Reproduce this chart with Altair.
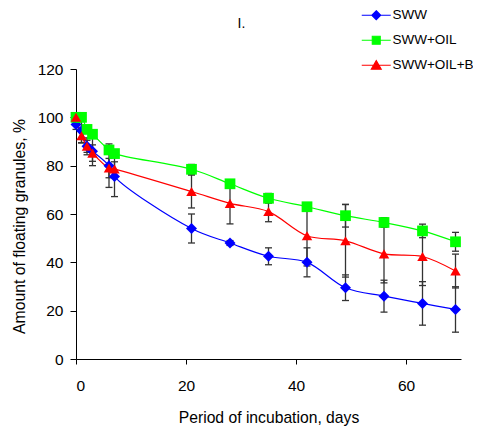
import altair as alt
import pandas as pd

days = [0, 1, 2, 3, 6, 7, 21, 28, 35, 42, 49, 56, 63, 69]
series_names = ["SWW", "SWW+OIL", "SWW+OIL+B"]
sww = [97, 94.5, 88, 86, 80, 75.5, 54, 48, 42.5, 40, 29.5, 26, 23, 20.5]
sww_err = [2, 5, 3.5, 6, 9, 8.3, 6, 1, 3.5, 6, 5.3, 6.6, 9, 9.4]
sww_oil = [100, 100, 95, 93, 86.5, 85, 78.5, 72.5, 66.5, 63, 59.3, 56.5, 53, 48.5]
sww_oil_err = [1, 1, 1.5, 1.5, 1.5, 1.5, 2, 1.5, 2, 1.5, 4.7, 2, 2.8, 3.9]
sww_oil_b = [100, 92.4, 88, 85.2, 79, 78.6, 69.3, 64.4, 61, 51, 48.9, 43.5, 42.4, 36.4]
sww_oil_b_err = [1, 3, 2.5, 3.4, 4, 3, 6.8, 8.5, 4.2, 12.5, 15, 12, 12, 7]

colors = ["#0000FF", "#00FF00", "#FF0000"]
shapes = ["diamond", "square", "triangle-up"]
sizes = [121, 110, 144]
legend_paths = [
    "M-2.9,0L2.9,0M0,-0.9L0.9,0L0,0.9L-0.9,0Z",
    "M-2.9,0L2.9,0M-0.8,-0.8L0.8,-0.8L0.8,0.8L-0.8,0.8Z",
    "M-2.9,0L2.9,0M0,-0.95L1,0.8L-1,0.8Z",
]

rows = []
for name, vals, errs in zip(series_names, [sww, sww_oil, sww_oil_b],
                            [sww_err, sww_oil_err, sww_oil_b_err]):
    for d, v, e in zip(days, vals, errs):
        rows.append({"series": name, "day": d, "value": v,
                     "low": v - e, "high": v + e})
df = pd.DataFrame(rows)

FONT = "Liberation Sans"

axis_x = alt.Axis(values=[0, 20, 40, 60], grid=False, tickSize=5, tickColor="black",
                  domainColor="black", domainWidth=1, tickWidth=1,
                  labelFont=FONT, labelFontSize=15.5, labelColor="black", labelPadding=14,
                  title="Period of incubation, days", titleFont=FONT, titleFontSize=15.7,
                  titleFontWeight="normal", titleColor="black", titleY=51)
axis_y = alt.Axis(values=[0, 20, 40, 60, 80, 100, 120], grid=False, tickSize=6,
                  tickColor="black", domainColor="black", domainWidth=1, tickWidth=1,
                  labelFont=FONT, labelFontSize=15.5, labelColor="black", labelPadding=7,
                  title="Amount of floating granules, %", titleFont=FONT, titleFontSize=15.8,
                  titleFontWeight="normal", titleColor="black",
                  titleX=-57, titleY=157, titleBaseline="middle", titleAngle=270)

xs = alt.Scale(domain=[0, 70], nice=False)
ys = alt.Scale(domain=[0, 120], nice=False)
X = alt.X("day:Q", scale=xs, axis=axis_x)

base = alt.Chart(df)

rules = base.mark_rule(color="#333333", strokeWidth=1.3).encode(
    x=X, y=alt.Y("low:Q", scale=ys, axis=axis_y), y2="high:Q")
tick_lo = base.mark_tick(orient="horizontal", size=7, thickness=1.3,
                         color="#333333", opacity=1).encode(
    x=X, y=alt.Y("low:Q", scale=ys, axis=axis_y))
tick_hi = base.mark_tick(orient="horizontal", size=7, thickness=1.3,
                         color="#333333", opacity=1).encode(
    x=X, y=alt.Y("high:Q", scale=ys, axis=axis_y))

lines = base.mark_line(interpolate="catmull-rom", strokeWidth=1.2).encode(
    x=X, y=alt.Y("value:Q", scale=ys, axis=axis_y),
    color=alt.Color("series:N", scale=alt.Scale(domain=series_names, range=colors),
                    legend=None))

points = base.mark_point(filled=True, opacity=1).encode(
    x=X, y=alt.Y("value:Q", scale=ys, axis=axis_y),
    fill=alt.Fill("series:N", scale=alt.Scale(domain=series_names, range=colors),
                  legend=None),
    shape=alt.Shape("series:N", scale=alt.Scale(domain=series_names, range=shapes),
                    legend=None),
    size=alt.Size("series:N", scale=alt.Scale(domain=series_names, range=sizes),
                  legend=None))

leg = alt.Legend(title=None, orient="none", legendX=293.5, legendY=-60.5,
                 labelFont=FONT, labelFontSize=13.5, labelColor="black",
                 symbolSize=100, symbolStrokeWidth=1.1, labelOffset=9.5,
                 rowPadding=10, padding=0, symbolOpacity=1)

legend_layer = base.transform_filter("datum.day < 0").mark_point(
    filled=True, opacity=1, strokeWidth=1.1).encode(
    x=X, y=alt.Y("value:Q", scale=ys, axis=axis_y),
    fill=alt.Fill("series:N", scale=alt.Scale(domain=series_names, range=colors), legend=leg),
    stroke=alt.Stroke("series:N", scale=alt.Scale(domain=series_names, range=colors), legend=leg),
    shape=alt.Shape("series:N", scale=alt.Scale(domain=series_names, range=legend_paths),
                    legend=leg))

chart = alt.layer(rules, tick_lo, tick_hi, lines, points, legend_layer).resolve_scale(
    color="independent", fill="independent", stroke="independent",
    shape="independent", size="independent"
).properties(
    width=385, height=290, autosize="none",
    padding={"left": 68, "top": 61, "right": 12, "bottom": 67},
    title=alt.TitleParams("I.", anchor="middle", dx=-27, dy=26, font=FONT, fontSize=14,
                          fontWeight="normal", color="black"),
).configure_view(stroke=None)

chart.save("out.html", embed_options={"renderer": "svg", "actions": False})
